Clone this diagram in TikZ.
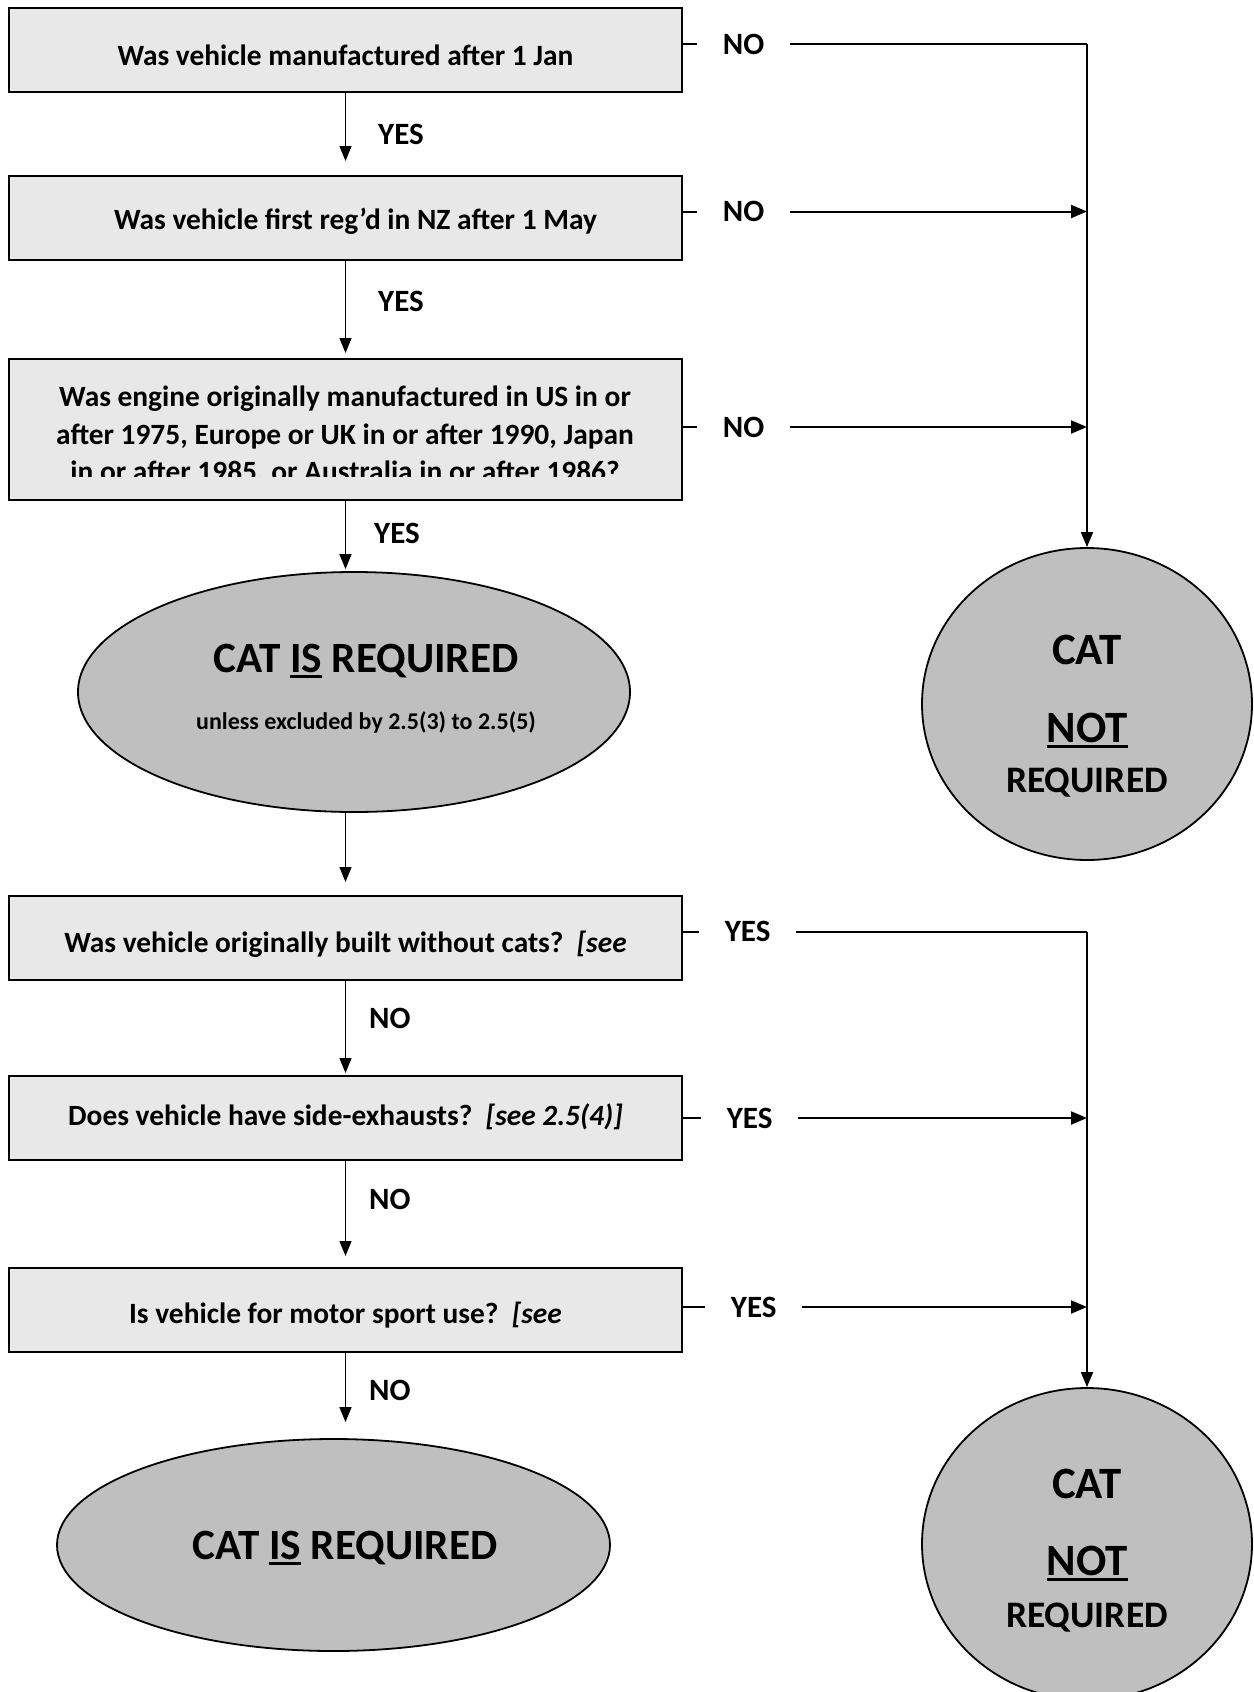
\documentclass[tikz,border=0pt]{standalone}
\usepackage{fontspec}
\setmainfont{Carlito}[BoldItalicFont={Carlito Bold Italic}]
\usetikzlibrary{arrows.meta,shapes.geometric}
\definecolor{boxfill}{HTML}{E8E8E8}
\definecolor{endfill}{HTML}{BFBFBF}
\newcommand{\ulbar}[1]{\leavevmode\vtop{\hbox{#1}\kern1.5pt\hrule height 1.3pt}}
\tikzset{
	qbox/.style={draw,line width=1pt,fill=boxfill,minimum width=336.5pt,minimum height=42pt,inner sep=0pt,font=\fontsize{14.7}{18.7}\selectfont\bfseries,align=center,text height=#1,text depth=4pt},
	qbox/.default=12.8pt,
	endell/.style={draw,line width=0.9pt,fill=endfill,ellipse,inner sep=0pt},
	ans/.style={fill=white,inner xsep=13pt,inner ysep=2pt,font=\fontsize{15.5}{18}\selectfont\bfseries},
	ansv/.style={right,inner sep=0pt,font=\fontsize{15.5}{18}\selectfont\bfseries},
	big/.style={anchor=base,inner sep=0pt,font=\fontsize{21.6}{25}\selectfont\bfseries},
	flow/.style={line width=0.7pt,-{Triangle[length=7.5pt,width=6pt]}},
	side/.style={line width=1pt},
	trunk/.style={line width=0.9pt}
}
\begin{document}
\begin{tikzpicture}[x=0.5pt,y=-0.5pt]
	\useasboundingbox (0,0) rectangle (1253,1692);
	% first check
	\node[qbox=19pt] (b1) at (345.5,50) {Was vehicle manufactured after 1 Jan};
	\node[qbox=15pt] (b2) at (345.5,218) {\hspace*{10pt}Was vehicle first reg’d in NZ after 1 May};
	\node[draw,line width=1pt,fill=boxfill,minimum width=336.5pt,minimum height=70.5pt] (b3) at (345.5,429.5) {};
	\begin{scope}
	\clip (b3.north west) rectangle ([yshift=12.5pt]b3.south east);
	\node[align=center,inner sep=0pt,font=\fontsize{14.7}{18.7}\selectfont\bfseries] (b3t) at (345,436)
		{Was engine originally manufactured in US in or\\after 1975, Europe or UK in or after 1990, Japan\\in or after 1985, or Australia in or after 1986?};
	\end{scope}
	\node[endell,minimum width=276pt,minimum height=120pt] (e1) at (354,692) {};
	\node[big] (e1t) at (366,672) {CAT \ulbar{IS} REQUIRED};
	\node[anchor=base,inner sep=0pt,font=\fontsize{12}{14}\selectfont\bfseries] (e1s) at (366,729) {unless excluded by 2.5(3) to 2.5(5)};
	\node[endell,minimum width=165pt,minimum height=156pt] (nr1) at (1087,704) {};
	\node[big,font=\fontsize{22.4}{26}\selectfont\bfseries] (nr1a) at (1087,664) {CAT};
	\node[big,font=\fontsize{22.4}{26}\selectfont\bfseries] (nr1b) at (1087,742) {\ulbar{NOT}};
	\node[big,font=\fontsize{18.7}{22}\selectfont\bfseries] (nr1c) at (1087,792) {REQUIRED};
	% second check
	\node[qbox=18.2pt] (b4) at (345.5,938) {Was vehicle originally built without cats?~~\textit{[see}};
	\node[qbox=11.8pt] (b5) at (345.5,1118) {Does vehicle have side-exhausts?~~\textit{[see 2.5(4)]}};
	\node[qbox=17.3pt] (b6) at (345.5,1310) {Is vehicle for motor sport use?~~\textit{[see}};
	\node[endell,minimum width=276.5pt,minimum height=106pt] (e2) at (333.5,1545) {};
	\node[big] (e2t) at (345,1559) {CAT \ulbar{IS} REQUIRED};
	\node[endell,minimum width=165pt,minimum height=156pt] (nr2) at (1087,1544) {};
	\node[big,font=\fontsize{22.4}{26}\selectfont\bfseries] (nr2a) at (1087,1498) {CAT};
	\node[big,font=\fontsize{22.4}{26}\selectfont\bfseries] (nr2b) at (1087,1575) {\ulbar{NOT}};
	\node[big,font=\fontsize{18.7}{22}\selectfont\bfseries] (nr2c) at (1087,1627) {REQUIRED};
	% down the left
	\draw[flow,shorten >=7pt] (b1.south) -- node[ansv,pos=0.51,xshift=16pt] {YES} (b2.north);
	\draw[flow,shorten >=2.5pt] (b2.south) -- node[ansv,pos=0.42,xshift=16pt] {YES} (b3.north);
	\draw[flow,shorten >=1pt] (b3.south) -- node[ansv,pos=0.46,xshift=14pt] {YES} (b3.south |- e1.north);
	\draw[flow,shorten >=6.5pt] (b4.north |- e1.south) -- (b4.north);
	\draw[flow,shorten >=1pt] (b4.south) -- node[ansv,pos=0.40,xshift=11.5pt] {NO} (b5.north);
	\draw[flow,shorten >=5.5pt] (b5.south) -- node[ansv,pos=0.36,xshift=11.5pt] {NO} (b6.north);
	\draw[flow,shorten >=8pt] (b6.south) -- node[ansv,pos=0.44,xshift=11.5pt] {NO} (b6.south |- e2.north);
	% across to the right
	\coordinate (t1) at (1087,44);
	\coordinate (t2) at (1087,211.5);
	\coordinate (t3) at (1087,427);
	\coordinate (t4) at (1087,931.5);
	\coordinate (t5) at (1087,1118);
	\coordinate (t6) at (1087,1307);
	\draw[side] (b1.east |- t1) -- node[ans,pos=0.15] {NO} (t1);
	\draw[side,-{Triangle[length=8pt,width=6.5pt]}] (b2.east |- t2) -- node[ans,pos=0.15] {NO} (t2);
	\draw[side,-{Triangle[length=8pt,width=6.5pt]}] (b3.east |- t3) -- node[ans,pos=0.15] {NO} (t3);
	\draw[trunk,-{Triangle[length=7.5pt,width=6pt]}] (t1) -- (nr1.north);
	\draw[side] (b4.east |- t4) -- node[ans,pos=0.16] {YES} (t4);
	\draw[side,-{Triangle[length=8pt,width=6.5pt]}] (b5.east |- t5) -- node[ans,pos=0.165] {YES} (t5);
	\draw[side,-{Triangle[length=8pt,width=6.5pt]}] (b6.east |- t6) -- node[ans,pos=0.175] {YES} (t6);
	\draw[trunk,-{Triangle[length=7.5pt,width=6pt]}] (t4) -- (nr2.north);
\end{tikzpicture}
\end{document}
